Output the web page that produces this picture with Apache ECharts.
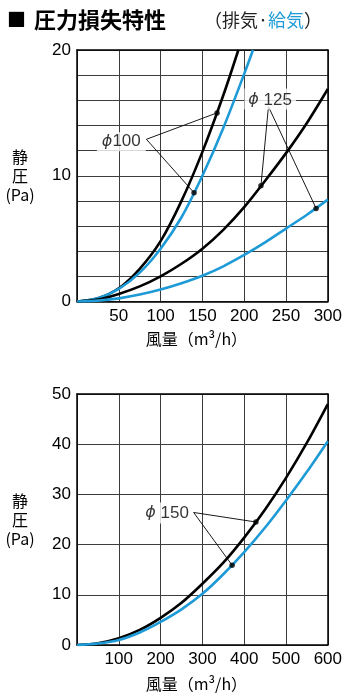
<!DOCTYPE html>
<html>
<head>
<meta charset="utf-8">
<script src="https://cdn.jsdelivr.net/npm/echarts@6/dist/echarts.min.js"></script>
<style>
  html, body { margin: 0; padding: 0; background: #fff; }
  #chart { width: 345px; height: 700px; }
</style>
</head>
<body>
<div id="chart"></div>
<script>
// Airflow (m³/h) vs static pressure (Pa); black = exhaust, blue = supply.

// φ100 duct
const flow100Exhaust = [0, 25, 50, 75, 100, 125, 150, 175, 193];
const pa100Exhaust   = [0, 0.25, 1.05, 2.6, 4.8, 8.0, 11.9, 16.4, 20];
const flow100Supply  = [0, 25, 50, 75, 100, 125, 150, 175, 200, 210.5];
const pa100Supply    = [0, 0.25, 1.0, 2.3, 4.2, 6.7, 10, 13.8, 18.1, 20];

// φ125 duct
const flow125 = [0, 25, 50, 75, 100, 125, 150, 175, 200, 225, 250, 275, 300];
const pa125Exhaust = [0, 0.15, 0.6, 1.2, 2.0, 3.0, 4.2, 5.7, 7.5, 9.6, 11.8, 14.2, 16.9];
const pa125Supply  = [0, 0.07, 0.25, 0.55, 0.95, 1.45, 2.05, 2.8, 3.7, 4.7, 5.8, 6.9, 8.1];

// φ150 duct
const flow150 = [0, 50, 100, 150, 200, 250, 300, 350, 400, 450, 500, 550, 600];
const pa150Exhaust = [0, 0.35, 1.35, 3.0, 5.4, 8.4, 12.2, 16.4, 21.4, 27.0, 33.3, 40.3, 48.0];
const pa150Supply  = [0, 0.3, 1.0, 2.5, 4.6, 7.1, 10.2, 14.1, 18.5, 23.4, 28.8, 34.5, 40.6];

// Axis ranges and tick steps
const upperFlowTicks = [0, 300, 50];
const upperPaTicks   = [0, 20, 2];
const lowerFlowTicks = [0, 600, 100];
const lowerPaTicks   = [0, 50, 10];

// Callout markers on the curves: [flow, pressure]
const dots100 = [[167.5, 15.0], [140, 8.65]];
const dots125 = [[220, 9.2], [286, 7.4]];
const dots150 = [[428, 24.5], [371, 15.9]];

// Callout text anchors and leader origins (data units)
const callouts = [
  { grid: 0, size: '100',  gap: '',  at: [53, 12.7],    from: [83, 12.9],  to: dots100, pad: [1, 5, 1, 5] },
  { grid: 0, size: '125',  gap: ' ', at: [231, 16.1],   from: [229, 15.5], to: dots125, pad: [3, 4, 1, 4] },
  { grid: 1, size: '150',  gap: ' ', at: [215.5, 26.3], from: [279, 26.4], to: dots150, pad: [2, 4, 2, 4] }
];

const BLACK = '#000000';
const BLUE = '#1e9bd7';
const NUM_FONT = '"Liberation Sans", Arial, sans-serif';
const CJK_FONT = '"Noto Sans CJK JP", "Noto Sans", sans-serif';

const pairs = (xs, ys) => xs.map((x, i) => [x, ys[i]]);

function curve(name, xs, ys, color, gi) {
  return {
    name, type: 'line', xAxisIndex: gi * 2, yAxisIndex: gi * 2,
    data: pairs(xs, ys), showSymbol: false, smooth: 0.3,
    lineStyle: { color, width: 2.6 }, z: 3, silent: true
  };
}

function valueAxis(gi, ticks, pos, labelFn, extra) {
  return Object.assign({
    type: 'value', gridIndex: gi, position: pos,
    min: ticks[0], max: ticks[1], interval: ticks[2],
    axisLine: { show: true, onZero: false, lineStyle: { color: '#000', width: 1.5 } },
    axisTick: { show: false },
    axisLabel: labelFn ? {
      show: true, formatter: labelFn, color: BLACK,
      fontFamily: NUM_FONT, fontSize: 17, margin: 6
    } : { show: false },
    splitLine: { show: !!labelFn, lineStyle: { color: '#3c3c3c', width: 1 } }
  }, extra || {});
}

const xName = {
  name: '風量（m³/h）', nameLocation: 'middle',
  nameTextStyle: { fontFamily: CJK_FONT, fontSize: 16, color: BLACK, padding: [0, 12, 0, 0] }
};
const yName = {
  name: '静\n圧\n(Pa)', nameLocation: 'middle', nameRotate: 0, nameGap: 57,
  nameTextStyle: { fontFamily: CJK_FONT, fontSize: 16, color: BLACK, lineHeight: 19, align: 'center', verticalAlign: 'middle' }
};

const upperYLabel = v => (v % 10 === 0 ? String(v) : '');
const noZero = v => (v === 0 ? '' : String(v));

const xAxis = [
  valueAxis(0, upperFlowTicks, 'bottom', noZero, Object.assign({}, xName, { nameGap: 29 })),
  valueAxis(0, upperFlowTicks, 'top', null),
  valueAxis(1, lowerFlowTicks, 'bottom', noZero, Object.assign({}, xName, { nameGap: 31 })),
  valueAxis(1, lowerFlowTicks, 'top', null)
];
const yAxis = [
  valueAxis(0, upperPaTicks, 'left', upperYLabel, yName),
  valueAxis(0, upperPaTicks, 'right', null),
  valueAxis(1, lowerPaTicks, 'left', v => String(v), yName),
  valueAxis(1, lowerPaTicks, 'right', null)
];

const series = [
  curve('ϕ100 排気', flow100Exhaust, pa100Exhaust, BLACK, 0),
  curve('ϕ100 給気', flow100Supply, pa100Supply, BLUE, 0),
  curve('ϕ125 排気', flow125, pa125Exhaust, BLACK, 0),
  curve('ϕ125 給気', flow125, pa125Supply, BLUE, 0),
  curve('ϕ150 排気', flow150, pa150Exhaust, BLACK, 1),
  curve('ϕ150 給気', flow150, pa150Supply, BLUE, 1)
];

callouts.forEach(c => {
  const ai = c.grid * 2;
  c.to.forEach(d => {
    series.push({
      type: 'line', xAxisIndex: ai, yAxisIndex: ai, data: [c.from, d],
      showSymbol: false, lineStyle: { color: '#000', width: 0.9 }, z: 4, silent: true
    });
  });
  series.push({
    type: 'scatter', xAxisIndex: ai, yAxisIndex: ai, data: c.to,
    symbolSize: 5.5, itemStyle: { color: '#000' }, z: 5, silent: true
  });
  series.push({
    type: 'scatter', xAxisIndex: ai, yAxisIndex: ai,
    data: [{ value: c.at, name: c.size }], symbolSize: 0, z: 6, silent: true,
    label: {
      show: true, position: 'inside',
      formatter: '{p|ϕ}' + c.gap + '{n|' + c.size + '}',
      fontFamily: NUM_FONT, fontSize: 17, color: BLACK,
      backgroundColor: '#fff', padding: c.pad,
      rich: {
        p: { fontFamily: '"DejaVu Sans", sans-serif', fontStyle: 'italic', fontSize: 16, color: BLACK },
        n: { fontFamily: NUM_FONT, fontSize: 17, color: BLACK }
      }
    }
  });
});

const option = {
  animation: false,
  backgroundColor: '#fff',
  title: [
    {
      text: '{sq|■}{t|圧力損失特性}', left: 2, top: 4,
      textStyle: {
        rich: {
          sq: { fontFamily: CJK_FONT, fontSize: 19, color: '#000', padding: [0, 8, 0, 0] },
          t: { fontFamily: CJK_FONT, fontSize: 22, fontWeight: 'bold', color: '#000' }
        }
      }
    },
    {
      text: '{a|（排気·}{b|給気}{a|）}', left: 199, top: 6,
      textStyle: {
        fontWeight: 'normal',
        rich: {
          a: { fontFamily: CJK_FONT, fontSize: 18, fontWeight: 'normal', color: '#222' },
          b: { fontFamily: CJK_FONT, fontSize: 18, fontWeight: 'normal', color: BLUE }
        }
      }
    }
  ],
  grid: [
    { left: 77, top: 50, width: 251, height: 251.5 },
    { left: 77, top: 394, width: 251, height: 251 }
  ],
  xAxis, yAxis, series
};

echarts.init(document.getElementById('chart'), null, { renderer: 'canvas' }).setOption(option);
</script>
</body>
</html>
